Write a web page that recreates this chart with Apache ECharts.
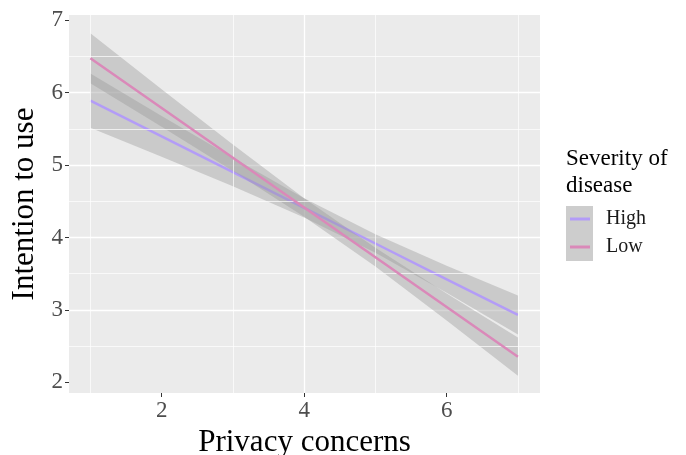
<!DOCTYPE html>
<html><head><meta charset="utf-8">
<script src="https://cdn.jsdelivr.net/npm/echarts@6/dist/echarts.min.js"></script>
<style>html,body{margin:0;padding:0;background:#fff}#c{width:686px;height:455px}</style>
</head><body><div id="c"></div>
<script>
// ---- data ----
const xPoints   = [1, 2, 3, 4, 5, 6, 7];
const highFit   = [5.890, 5.397, 4.903, 4.410, 3.917, 3.423, 2.930];
const highLower = [5.516, 5.115, 4.706, 4.277, 3.790, 3.237, 2.660];
const highUpper = [6.264, 5.679, 5.100, 4.543, 4.044, 3.609, 3.200];
const lowFit    = [6.475, 5.788, 5.101, 4.415, 3.728, 3.041, 2.354];
const lowLower  = [6.130, 5.528, 4.919, 4.287, 3.598, 2.855, 2.089];
const lowUpper  = [6.820, 6.048, 5.283, 4.543, 3.858, 3.227, 2.619];
const groups    = ['High', 'Low'];
const xTicks    = [2, 4, 6];
const yTicks    = [2, 3, 4, 5, 6, 7];
const xMinor    = [1, 3, 5, 7];
const yMinor    = [2.5, 3.5, 4.5, 5.5, 6.5];
const xRange    = [0.7, 7.31];
const yRange    = [1.852, 7.073];
const xTitle    = 'Privacy concerns';
const yTitle    = 'Intention to use';
const legendTitle = 'Severity of\ndisease';

const SERIF = "'Liberation Serif', 'DejaVu Serif', serif";
const colors = { High: '#B39CF7', Low: '#DA89B9' };

function pairs(xs, ys) { return xs.map((x, i) => [x, ys[i]]); }

function band(name, lo, hi, z) {
  return {
    type: 'custom', name: name, silent: true, z: z,
    coordinateSystem: 'cartesian2d',
    data: xPoints.map((x, i) => [x, lo[i], hi[i]]),
    encode: { x: 0, y: [1, 2] },
    renderItem: function (params, api) {
      if (params.dataIndex !== 0) return null;
      const pts = [];
      for (let i = 0; i < xPoints.length; i++) pts.push(api.coord([xPoints[i], hi[i]]));
      for (let i = xPoints.length - 1; i >= 0; i--) pts.push(api.coord([xPoints[i], lo[i]]));
      return { type: 'polygon', shape: { points: pts }, style: { fill: 'rgba(153,153,153,0.4)' } };
    }
  };
}

function fitLine(name, ys, z) {
  return {
    type: 'line', name: name, data: pairs(xPoints, ys), z: z,
    symbol: 'none', showSymbol: false, silent: true,
    lineStyle: { color: colors[name], width: 2.5 },
    itemStyle: { color: colors[name] }
  };
}

const minorGrid = {
  type: 'line', name: 'minorGrid', data: [], z: 1, silent: true,
  markLine: {
    silent: true, symbol: ['none', 'none'], label: { show: false },
    lineStyle: { color: '#FFFFFF', width: 0.7, type: 'solid' },
    emphasis: { disabled: true },
    data: xMinor.map(v => ({ xAxis: v })).concat(yMinor.map(v => ({ yAxis: v })))
  }
};

const chart = echarts.init(document.getElementById('c'), null, { renderer: 'canvas' });
chart.setOption({
  animation: false,
  backgroundColor: '#FFFFFF',
  grid: { left: 69, right: 146, top: 15, bottom: 62, outerBoundsMode: 'none', containLabel: false,
          show: true, backgroundColor: '#EBEBEB', borderWidth: 0 },
  title: {
    text: legendTitle, left: 566, top: 145, padding: 0,
    textStyle: { fontFamily: SERIF, fontSize: 23, fontWeight: 'normal', color: '#000', lineHeight: 27 }
  },
  graphic: [{ type: 'rect', left: 566, top: 206, shape: { width: 27, height: 55 }, style: { fill: '#CDCDCD' }, z: 0 }],
  legend: {
    data: groups.map(g => ({ name: g, icon: 'rect' })),
    orient: 'vertical', left: 570, top: 209, padding: 0,
    itemWidth: 20, itemHeight: 3, itemGap: 8,
    selectedMode: false,
    textStyle: { fontFamily: SERIF, fontSize: 20, color: '#1A1A1A', lineHeight: 20, padding: [0, 0, 0, 11] }
  },
  xAxis: {
    type: 'value', min: xRange[0], max: xRange[1],
    name: xTitle, nameLocation: 'middle', nameGap: 29,
    nameTextStyle: { fontFamily: SERIF, fontSize: 31, color: '#000' },
    axisLine: { show: false },
    axisTick: { show: true, length: 4, customValues: xTicks, lineStyle: { color: '#333333', width: 1 } },
    axisLabel: { customValues: xTicks, margin: 6, fontFamily: SERIF, fontSize: 23, color: '#4D4D4D' },
    splitLine: { show: true, showMinLine: false, showMaxLine: false, lineStyle: { color: '#FFFFFF', width: 1.3 } }
  },
  yAxis: {
    type: 'value', min: yRange[0], max: yRange[1],
    name: yTitle, nameLocation: 'middle', nameGap: 25, nameRotate: 90,
    nameTextStyle: { fontFamily: SERIF, fontSize: 31, color: '#000' },
    axisLine: { show: false },
    axisTick: { show: true, length: 4, customValues: yTicks, lineStyle: { color: '#333333', width: 1 } },
    axisLabel: { customValues: yTicks, margin: 6, fontFamily: SERIF, fontSize: 23, color: '#4D4D4D' },
    splitLine: { show: true, showMinLine: false, showMaxLine: false, lineStyle: { color: '#FFFFFF', width: 1.3 } }
  },
  series: [
    minorGrid,
    band('bandHigh', highLower, highUpper, 2),
    fitLine('High', highFit, 3),
    band('bandLow', lowLower, lowUpper, 4),
    fitLine('Low', lowFit, 5)
  ]
});
</script></body></html>
